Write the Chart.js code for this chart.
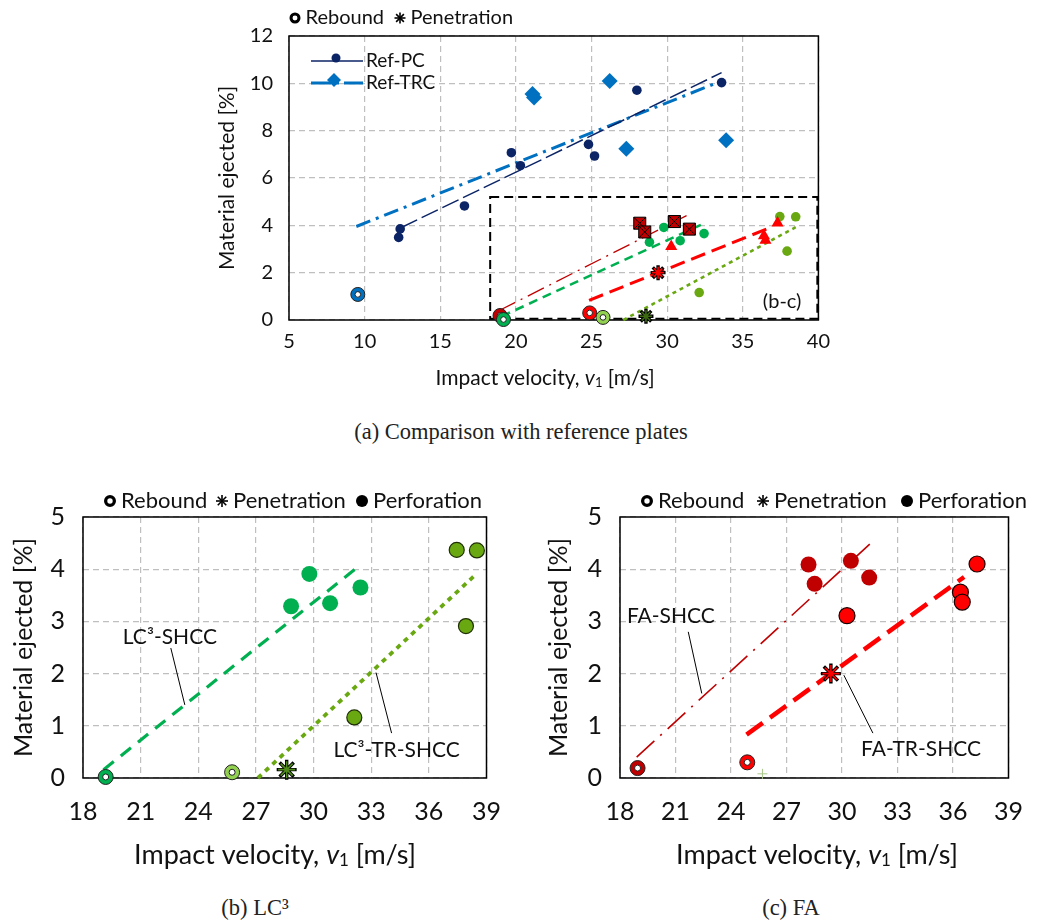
<!DOCTYPE html>
<html lang="en">
<head>
  <meta charset="UTF-8">
  <title>Material ejected vs impact velocity</title>
  <script src="https://cdn.jsdelivr.net/npm/chart.js"></script>
  <style>
    body { margin: 0; background: #fff; width: 1042px; height: 924px; position: relative; overflow: hidden; }
    canvas { position: absolute; }
    .caption { position: absolute; font-family: "Liberation Serif", "DejaVu Serif", serif; font-size: 22.5px; color: #222; text-align: center; line-height: 24px; }
  </style>
</head>
<body>

  <canvas id="chartA" width="640" height="400" style="left:200px;top:0px"></canvas>
  <div class="caption" style="left:221px;top:420px;width:600px">(a) Comparison with reference plates</div>

  <canvas id="chartB" width="520" height="390" style="left:0px;top:480px"></canvas>
  <div class="caption" style="left:155px;top:896px;width:200px">(b) LC³</div>

  <canvas id="chartC" width="522" height="390" style="left:520px;top:480px"></canvas>
  <div class="caption" style="left:691px;top:896px;width:200px">(c) FA</div>

  <script>
    // --- (a) reference plates ---
    const refPcV = [12.25, 12.35, 16.6, 19.7, 20.3, 24.8, 25.2, 28.0, 33.6];
    const refPcM = [3.49, 3.85, 4.82, 7.07, 6.52, 7.42, 6.93, 9.71, 10.03];
    const refTrcV = [21.1, 21.2, 26.2, 27.3, 33.9];
    const refTrcM = [9.55, 9.4, 10.1, 7.24, 7.6];
    const refTrcRebV = [9.55];
    const refTrcRebM = [1.08];
    const refPcFitV = [12.4, 33.6];
    const refPcFitM = [3.9, 10.45];
    const refTrcFitV = [9.45, 33.6];
    const refTrcFitM = [3.95, 10.1];

    // --- LC3 plates ---
    const lc3V = [28.83, 29.78, 30.86, 32.44];
    const lc3M = [3.29, 3.91, 3.35, 3.65];
    const lc3RebV = [19.18];
    const lc3RebM = [0.02];
    const lc3FitV = [19.07, 32.5];
    const lc3FitM = [0.16, 4.1];
    const lc3TrV = [32.12, 37.45, 37.93, 38.5];
    const lc3TrM = [1.16, 4.37, 2.91, 4.36];
    const lc3TrRebV = [25.76];
    const lc3TrRebM = [0.11];
    const lc3TrPenV = [28.6];
    const lc3TrPenM = [0.16];
    const lc3TrFitV = [27.1, 38.5];
    const lc3TrFitM = [0.0, 3.92];

    // --- FA plates ---
    const faV = [28.19, 28.52, 30.48, 31.47];
    const faM = [4.09, 3.72, 4.16, 3.84];
    const faRebV = [18.95];
    const faRebM = [0.19];
    const faFitV = [18.9, 31.5];
    const faFitM = [0.4, 4.48];
    const faTrV = [30.27, 36.4, 36.5, 37.3];
    const faTrM = [3.11, 3.56, 3.37, 4.1];
    const faTrRebV = [24.88];
    const faTrRebM = [0.3];
    const faTrPenV = [29.4];
    const faTrPenM = [2.0];
    const faTrFitV = [24.84, 36.6];
    const faTrFitM = [0.83, 3.85];
    const strayV = [25.7];
    const strayM = [0.08];

    // tick labels
    const xTicksA = [5, 10, 15, 20, 25, 30, 35, 40];
    const yTicksA = [0, 2, 4, 6, 8, 10, 12];
    const xTicksBC = [18, 21, 24, 27, 30, 33, 36, 39];
    const yTicksBC = [0, 1, 2, 3, 4, 5];

    const FONT = 'Lato, "Open Sans", "DejaVu Sans", sans-serif';
    const INK = '#111';
    const navy = '#0b2466', blue = '#0070c0', green = '#00b050';
    const yg = '#6aa812', ygLight = '#92d050', darkRed = '#c00000', red = '#ff0000';

    function pts(xs, ys) { return xs.map((x, i) => ({ x: x, y: ys[i] })); }

    function marks(xs, ys, style, r, fill, edge, edgeW) {
      return { data: pts(xs, ys), showLine: false, clip: false,
        pointStyle: style, pointRadius: r, pointHoverRadius: r,
        pointBackgroundColor: fill, pointBorderColor: edge, pointBorderWidth: edgeW };
    }
    // hollow "rebound" marker: white centre on top of a coloured disc
    function ring(xs, ys, color, rOut, rIn) {
      return [marks(xs, ys, 'circle', rIn, '#fff', '#222', 1), marks(xs, ys, 'circle', rOut, color, '#222', 1)];
    }
    function star(xs, ys, color, r) {
      return [marks(xs, ys, 'star', r - 1.5, color, color, 1.6), marks(xs, ys, 'star', r, '#000', '#000', 3.4)];
    }
    function fit(xs, ys, color, w, dash) {
      return { data: pts(xs, ys), showLine: true, clip: false, pointRadius: 0, pointHoverRadius: 0,
        borderColor: color, borderWidth: w, borderDash: dash, borderCapStyle: 'butt' };
    }

    function axes(xt, yt, s) {
      const grid = { color: '#bfbfbf', lineWidth: 1.2, drawTicks: false };
      const border = { display: false, dash: [6, 4] };
      return {
        x: { type: 'linear', min: xt[0], max: xt[xt.length - 1], grid: grid, border: border,
          afterBuildTicks: sc => { sc.ticks = xt.map(v => ({ value: v })); },
          afterFit: sc => { sc.height = s.xHeight; },
          ticks: { padding: s.xPad, color: INK, font: { family: FONT, size: s.tick } } },
        y: { type: 'linear', min: yt[0], max: yt[yt.length - 1], grid: grid, border: border,
          afterBuildTicks: sc => { sc.ticks = yt.map(v => ({ value: v })); },
          afterFit: sc => { sc.width = s.yWidth; },
          ticks: { padding: s.yPad, color: INK, font: { family: FONT, size: s.tick } },
          title: { display: true, text: 'Material ejected [%]', color: INK,
            font: { family: FONT, size: s.title }, padding: { top: s.titlePad, bottom: 0 } } }
      };
    }

    // extra drawing per canvas: frame, keys, notes, rich x title
    const decorCfg = {
      chartA: {
        keySize: 20, keyR: 5.5,
        keys: [['ring', 95, 18, 'Rebound'], ['star', 200, 18, 'Penetration']],
        refKey: [
          { text: 'Ref-PC', y: 61, color: navy, w: 1.5, dash: [], mark: 'dot' },
          { text: 'Ref-TRC', y: 83, color: blue, w: 3, dash: [20, 5, 3, 5], mark: 'diamond' }
        ],
        inset: { x0: 18.3, x1: 39.93, y0: 0.05, y1: 5.2, label: '(b-c)', lx: 37.6, ly: 0.8 },
        xTitle: { x: 345, y: 378, size: 21 }
      },
      chartB: {
        keySize: 22, keyR: 6,
        keys: [['ring', 110, 21, 'Rebound'], ['star', 222, 21, 'Penetration'], ['dot', 362, 21, 'Perforation']],
        notes: [
          { text: 'LC³-SHCC', x: 22.52, y: 2.7, from: [22.57, 2.49], to: [23.3, 1.4] },
          { text: 'LC³-TR-SHCC', x: 34.32, y: 0.54, from: [34.06, 0.86], to: [33.25, 2.02] }
        ],
        xTitle: { x: 275, y: 375, size: 27 }
      },
      chartC: {
        keySize: 22, keyR: 6,
        keys: [['ring', 127, 21, 'Rebound'], ['star', 243, 21, 'Penetration'], ['dot', 387, 21, 'Perforation']],
        notes: [
          { text: 'FA-SHCC', x: 20.75, y: 3.1, from: [21.69, 2.8], to: [22.42, 1.62] },
          { text: 'FA-TR-SHCC', x: 34.27, y: 0.56, from: [31.67, 0.86], to: [30.1, 1.97] }
        ],
        xTitle: { x: 297, y: 375, size: 27 }
      }
    };

    function drawKey(ctx, kind, x, y, r) {
      ctx.save();
      ctx.strokeStyle = '#000';
      ctx.fillStyle = '#000';
      if (kind === 'ring') {
        ctx.lineWidth = r * 0.55;
        ctx.beginPath(); ctx.arc(x, y, r - ctx.lineWidth / 2, 0, 2 * Math.PI); ctx.stroke();
      } else if (kind === 'dot') {
        ctx.beginPath(); ctx.arc(x, y, r, 0, 2 * Math.PI); ctx.fill();
      } else {
        ctx.lineWidth = 1.6;
        for (let k = 0; k < 4; k++) {
          const t = k * Math.PI / 4;
          ctx.beginPath();
          ctx.moveTo(x - r * Math.cos(t), y - r * Math.sin(t));
          ctx.lineTo(x + r * Math.cos(t), y + r * Math.sin(t));
          ctx.stroke();
        }
      }
      ctx.restore();
    }

    function drawXTitle(ctx, cx, cy, size) {
      const parts = [
        ['Impact velocity, ', 'normal ' + size + 'px ' + FONT, 0],
        ['v', 'italic ' + size + 'px ' + FONT, 0],
        ['1', 'normal ' + Math.round(size * 0.62) + 'px ' + FONT, 2],
        [' [m/s]', 'normal ' + size + 'px ' + FONT, 0]
      ];
      let w = 0;
      parts.forEach(p => { ctx.font = p[1]; w += ctx.measureText(p[0]).width; });
      let x = cx - w / 2;
      ctx.fillStyle = INK;
      ctx.textBaseline = 'alphabetic';
      ctx.textAlign = 'left';
      parts.forEach(p => {
        ctx.font = p[1];
        ctx.fillText(p[0], x, cy + size * 0.35 + p[2]);
        x += ctx.measureText(p[0]).width;
      });
    }

    const decor = {
      id: 'decor',
      beforeDatasetsDraw(chart) {
        const cfg = decorCfg[chart.canvas.id];
        const ctx = chart.ctx, a = chart.chartArea;
        const sx = chart.scales.x, sy = chart.scales.y;
        ctx.save();
        ctx.strokeStyle = '#000';
        ctx.lineWidth = 1.5;
        ctx.strokeRect(a.left, a.top, a.right - a.left, a.bottom - a.top);
        if (cfg.inset) {
          const b = cfg.inset;
          const x0 = sx.getPixelForValue(b.x0), x1 = sx.getPixelForValue(b.x1);
          const y0 = sy.getPixelForValue(b.y0), y1 = sy.getPixelForValue(b.y1);
          ctx.setLineDash([9, 5]);
          ctx.lineWidth = 2;
          ctx.strokeRect(x0, y1, x1 - x0, y0 - y1);
          ctx.setLineDash([]);
          ctx.font = '20px ' + FONT;
          ctx.fillStyle = INK;
          ctx.textAlign = 'center';
          ctx.textBaseline = 'middle';
          ctx.fillText(b.label, sx.getPixelForValue(b.lx), sy.getPixelForValue(b.ly));
        }
        ctx.restore();
      },
      afterDraw(chart) {
        const cfg = decorCfg[chart.canvas.id];
        const ctx = chart.ctx;
        const sx = chart.scales.x, sy = chart.scales.y;
        ctx.save();
        cfg.keys.forEach(k => {
          drawKey(ctx, k[0], k[1], k[2], cfg.keyR);
          ctx.font = cfg.keySize + 'px ' + FONT;
          ctx.fillStyle = INK;
          ctx.textAlign = 'left';
          ctx.textBaseline = 'middle';
          ctx.fillText(k[3], k[1] + cfg.keyR + 5, k[2]);
        });
        (cfg.refKey || []).forEach(r => {
          ctx.strokeStyle = r.color;
          ctx.lineWidth = r.w;
          ctx.setLineDash(r.dash);
          ctx.beginPath(); ctx.moveTo(111, r.y); ctx.lineTo(163, r.y); ctx.stroke();
          ctx.setLineDash([]);
          ctx.fillStyle = r.color;
          ctx.beginPath();
          if (r.mark === 'dot') {
            ctx.arc(136, r.y - 3, 4.5, 0, 2 * Math.PI);
          } else {
            ctx.moveTo(134, r.y - 10); ctx.lineTo(141, r.y - 3); ctx.lineTo(134, r.y + 4); ctx.lineTo(127, r.y - 3);
            ctx.closePath();
          }
          ctx.fill();
          ctx.font = '19px ' + FONT;
          ctx.fillStyle = INK;
          ctx.textAlign = 'left';
          ctx.textBaseline = 'middle';
          ctx.fillText(r.text, 166, r.y);
        });
        (cfg.notes || []).forEach(n => {
          ctx.strokeStyle = '#000';
          ctx.lineWidth = 1;
          ctx.beginPath();
          ctx.moveTo(sx.getPixelForValue(n.from[0]), sy.getPixelForValue(n.from[1]));
          ctx.lineTo(sx.getPixelForValue(n.to[0]), sy.getPixelForValue(n.to[1]));
          ctx.stroke();
          ctx.font = '21px ' + FONT;
          ctx.fillStyle = INK;
          ctx.textAlign = 'center';
          ctx.textBaseline = 'middle';
          ctx.fillText(n.text, sx.getPixelForValue(n.x), sy.getPixelForValue(n.y));
        });
        drawXTitle(ctx, cfg.xTitle.x, cfg.xTitle.y, cfg.xTitle.size);
        ctx.restore();
      }
    };

    function makeChart(id, datasets, scales, padding) {
      return new Chart(document.getElementById(id), {
        type: 'scatter',
        data: { datasets: datasets },
        options: {
          responsive: false,
          animation: false,
          events: [],
          layout: { padding: padding },
          plugins: { legend: { display: false }, tooltip: { enabled: false } },
          scales: scales
        },
        plugins: [decor]
      });
    }

    makeChart('chartA', [
      ...star(faTrPenV, faTrPenM, red, 7.5),
      ...star(lc3TrPenV, lc3TrPenM, '#3d6b12', 7.5),
      ...ring(lc3RebV, lc3RebM, green, 7, 2.8),
      ...ring(faRebV, faRebM, darkRed, 7, 2.8),
      ...ring(lc3TrRebV, lc3TrRebM, ygLight, 7, 2.8),
      ...ring(faTrRebV, faTrRebM, red, 7, 2.8),
      ...ring(refTrcRebV, refTrcRebM, blue, 7, 2.8),
      marks(faV, faM, 'crossRot', 8.5, '#000', '#000', 1),
      marks(faV, faM, 'rect', 8.5, darkRed, '#000', 1),
      marks(faTrV, faTrM, 'triangle', 7, red, red, 0),
      marks(lc3V, lc3M, 'circle', 4.8, green, green, 0),
      marks(lc3TrV, lc3TrM, 'circle', 4.8, yg, yg, 0),
      marks(refPcV, refPcM, 'circle', 4.8, navy, navy, 0),
      marks(refTrcV, refTrcM, 'rectRot', 8, blue, blue, 0),
      fit(faFitV, faFitM, darkRed, 1.3, [18, 6, 2, 6]),
      fit(lc3FitV, lc3FitM, green, 2.6, [9, 6]),
      fit(faTrFitV, faTrFitM, red, 3, [15, 7]),
      fit(lc3TrFitV, lc3TrFitM, yg, 2.6, [4, 4]),
      fit(refPcFitV, refPcFitM, navy, 1.5, [18, 5]),
      fit(refTrcFitV, refTrcFitM, blue, 3, [15, 6, 3, 6])
    ], axes(xTicksA, yTicksA, { tick: 20, title: 21, titlePad: 15, xPad: 10, yPad: 16, yWidth: 89, xHeight: 80 }),
      { left: 0, top: 36, right: 21, bottom: 0 });

    makeChart('chartB', [
      ...star(lc3TrPenV, lc3TrPenM, '#4f8a1a', 10),
      ...ring(lc3RebV, lc3RebM, green, 7.5, 3),
      ...ring(lc3TrRebV, lc3TrRebM, ygLight, 7.5, 3),
      marks(lc3V, lc3M, 'circle', 8, green, green, 0),
      marks(lc3TrV, lc3TrM, 'circle', 7.5, yg, '#1f2f05', 1.2),
      fit(lc3FitV, lc3FitM, green, 3.2, [13, 9]),
      fit(lc3TrFitV, lc3TrFitM, yg, 3.8, [5, 5])
    ], axes(xTicksBC, yTicksBC, { tick: 25, title: 25, titlePad: 9, xPad: 19, yPad: 18, yWidth: 83, xHeight: 92 }),
      { left: 0, top: 37, right: 33, bottom: 0 });

    makeChart('chartC', [
      ...star(faTrPenV, faTrPenM, red, 10),
      ...ring(faRebV, faRebM, darkRed, 7.5, 3),
      ...ring(faTrRebV, faTrRebM, red, 7.5, 3),
      marks(faV, faM, 'circle', 8, darkRed, darkRed, 0),
      marks(faTrV, faTrM, 'circle', 8, red, '#1a0000', 1.2),
      marks(strayV, strayM, 'cross', 5, '#a9c98a', '#a9c98a', 1),
      fit(faFitV, faFitM, darkRed, 1.6, [24, 8, 2, 8]),
      fit(faTrFitV, faTrFitM, red, 4.5, [20, 9])
    ], axes(xTicksBC, yTicksBC, { tick: 25, title: 25, titlePad: 24, xPad: 19, yPad: 18, yWidth: 100, xHeight: 92 }),
      { left: 0, top: 37, right: 18, bottom: 0 });
  </script>

</body>
</html>
